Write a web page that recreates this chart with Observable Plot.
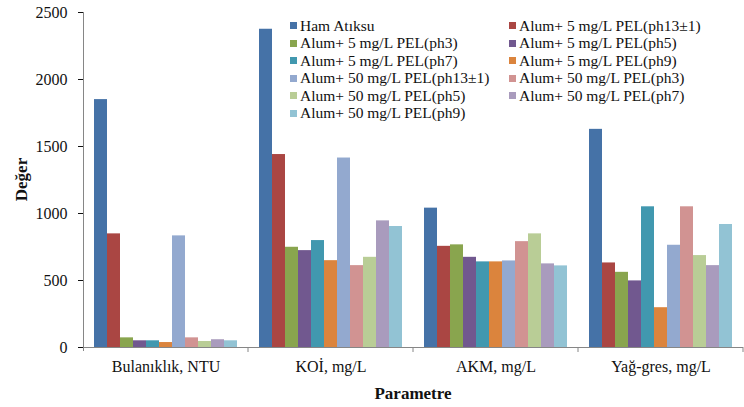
<!DOCTYPE html>
<html>
<head>
<meta charset="utf-8">
<script src="https://cdn.jsdelivr.net/npm/d3@7"></script>
<script src="https://cdn.jsdelivr.net/npm/@observablehq/plot@0.6"></script>
<style>
  html, body { margin: 0; padding: 0; background: #fff; }
  #wrap { position: relative; width: 744px; height: 407px; overflow: hidden; font-family: "Liberation Serif", "Times New Roman", serif; }
  #legend { position: absolute; left: 290px; top: 17px; display: grid; grid-template-columns: 219px 230px; grid-auto-rows: 17.5px; font-size: 15.5px; color: #111; }
  #legend .item { display: flex; align-items: center; white-space: nowrap; }
  #legend .sw { width: 7px; height: 7px; margin-right: 3px; flex: none; }
</style>
</head>
<body>
<div id="wrap"><div id="chart"></div><div id="legend"></div></div>
<script>
const categories = ["Bulanıklık, NTU", "KOİ, mg/L", "AKM, mg/L", "Yağ-gres, mg/L"];
const series = [
  "Ham Atıksu",
  "Alum+ 5 mg/L PEL(ph13±1)",
  "Alum+ 5 mg/L PEL(ph3)",
  "Alum+ 5 mg/L PEL(ph5)",
  "Alum+ 5 mg/L PEL(ph7)",
  "Alum+ 5 mg/L PEL(ph9)",
  "Alum+ 50 mg/L PEL(ph13±1)",
  "Alum+ 50 mg/L PEL(ph3)",
  "Alum+ 50 mg/L PEL(ph5)",
  "Alum+ 50 mg/L PEL(ph7)",
  "Alum+ 50 mg/L PEL(ph9)"
];
const colors = ["#4572A7", "#AA4643", "#89A54E", "#71588F", "#4198AF", "#DB843D", "#93A9CF", "#D19392", "#B9CD96", "#A99BBD", "#92C3D4"];
const bulaniklik = [1850, 848, 72, 50, 50, 37, 833, 72, 45, 58, 50];
const koi = [2375, 1440, 748, 723, 798, 648, 1414, 611, 673, 945, 903];
const akm = [1040, 755, 766, 673, 639, 639, 646, 790, 848, 624, 609];
const yagGres = [1628, 631, 561, 497, 1050, 297, 763, 1050, 686, 611, 918];
const yTicks = [0, 500, 1000, 1500, 2000, 2500];
const yLabel = "Değer";
const xLabel = "Parametre";

const valuesByCategory = [bulaniklik, koi, akm, yagGres];
const data = [];
categories.forEach((cat, i) => {
  series.forEach((s, j) => data.push({cat, series: s, value: valuesByCategory[i][j]}));
});

const axisColor = "#868686";

const chart = Plot.plot({
  width: 744,
  height: 407,
  marginLeft: 81,
  marginRight: 0,
  marginTop: 12,
  marginBottom: 60,
  style: {fontFamily: "'Liberation Serif', 'Times New Roman', serif", fontSize: "16px", color: "#111", background: "transparent"},
  fx: {domain: categories, padding: 0, label: null, tickSize: 0, tickPadding: 13},
  x: {domain: series, paddingInner: 0, paddingOuter: 0.75, axis: null},
  y: {domain: [0, 2500], ticks: yTicks, tickSize: 5, tickPadding: 11, label: null, tickFormat: d => String(d)},
  color: {domain: series, range: colors},
  marks: [
    Plot.barY(data, {fx: "cat", x: "series", y: "value", fill: "series"})
  ]
});

document.getElementById("chart").appendChild(chart);

// axis lines and category boundary ticks, positioned by Plot's own scales
const svgEl = chart.tagName.toLowerCase() === "svg" ? chart : chart.querySelector("svg");
const svg = d3.select(svgEl);
const fxS = chart.scale("fx");
const yS = chart.scale("y");
const fxf = fxS.apply ? (v => fxS.apply(v)) : (() => {
  const s = d3.scaleBand(fxS.domain, fxS.range).paddingInner(fxS.paddingInner || 0).paddingOuter(fxS.paddingOuter || 0).align(fxS.align ?? 0.5);
  return v => s(v);
})();
const yf = yS.apply ? (v => yS.apply(v)) : (() => { const s = d3.scaleLinear(yS.domain, yS.range); return v => s(v); })();
const bw = fxS.bandwidth;
const y0 = yf(0), yTop = yf(2500);
const xLeft = fxf(categories[0]);
const xRight = fxf(categories[categories.length - 1]) + bw;
const g = svg.append("g").attr("stroke", axisColor).attr("stroke-width", 1).attr("fill", "none");
g.append("line").attr("x1", xLeft + 0.5).attr("x2", xLeft + 0.5).attr("y1", yTop).attr("y2", y0 + 4);
g.append("line").attr("x1", xLeft).attr("x2", xRight).attr("y1", y0 + 0.5).attr("y2", y0 + 0.5);
categories.forEach(c => {
  const xb = fxf(c) + bw;
  g.append("line").attr("x1", xb).attr("x2", xb).attr("y1", y0).attr("y2", y0 + 5);
});

// axis titles
const xMid = (xLeft + xRight) / 2;
svg.append("text").text(xLabel)
  .attr("x", xMid).attr("y", 399)
  .attr("text-anchor", "middle").attr("font-weight", "bold").attr("font-size", 17).attr("fill", "#111");
svg.append("text").text(yLabel)
  .attr("transform", `translate(27,${(y0 + yTop) / 2}) rotate(-90)`)
  .attr("text-anchor", "middle").attr("font-weight", "bold").attr("font-size", 17).attr("fill", "#111");

// legend
const legend = document.getElementById("legend");
series.forEach((s, i) => {
  const item = document.createElement("div");
  item.className = "item";
  const sw = document.createElement("span");
  sw.className = "sw";
  sw.style.background = colors[i];
  const t = document.createElement("span");
  t.textContent = s;
  item.appendChild(sw);
  item.appendChild(t);
  legend.appendChild(item);
});
</script>
</body>
</html>
